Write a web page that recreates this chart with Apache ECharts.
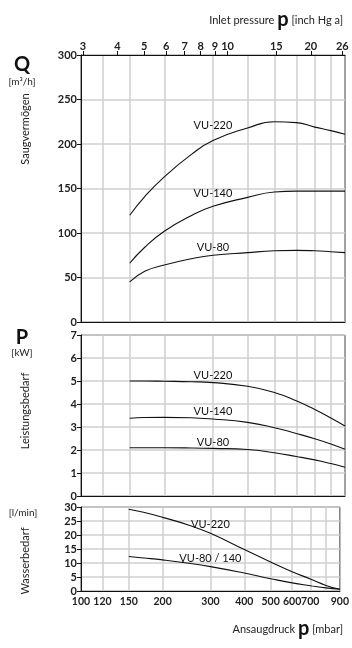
<!DOCTYPE html>
<html>
<head>
<meta charset="utf-8">
<script src="https://cdn.jsdelivr.net/npm/echarts@6/dist/echarts.min.js"></script>
<style>
  html, body { margin: 0; padding: 0; background: #fff; }
  #chart { width: 352px; height: 648px; }
</style>
</head>
<body>
<div id="chart"></div>
<script>
// Ansaugdruck in mbar (log scale)
const pressure = [150, 170, 200, 250, 300, 400, 500, 600, 700, 800, 900];

// Saugvermögen Q [m3/h]
const qVU220 = [120, 141, 163, 188, 204, 218, 225, 224, 219, 215, 211];
const qVU140 = [66, 84, 102, 119.5, 130, 140, 146, 147, 147, 147, 147];
const qVU80  = [45, 57, 64, 71, 75, 78, 80, 80.5, 80, 79, 78];

// Leistungsbedarf P [kW]
const pVU220 = [5.0, 5.0, 4.99, 4.97, 4.93, 4.77, 4.5, 4.14, 3.76, 3.39, 3.04];
const pVU140 = [3.38, 3.41, 3.42, 3.4, 3.35, 3.2, 2.97, 2.72, 2.49, 2.26, 2.03];
const pVU80  = [2.1, 2.1, 2.1, 2.09, 2.07, 2.02, 1.88, 1.72, 1.57, 1.41, 1.25];

// Wasserbedarf [l/min]
const wVU220 = [29.2, 28.1, 26.3, 23.5, 20.6, 14.8, 10.4, 6.9, 4.3, 2.0, 0.6];
const wVU80  = [12.3, 11.8, 11.1, 9.9, 8.7, 6.4, 4.4, 2.9, 1.9, 1.1, 0.6];

// axis ticks
const gridMbar = [120, 150, 200, 300, 400, 500, 600, 700, 800];
const labelMbar = [100, 120, 150, 200, 300, 400, 500, 600, 700, 900];
const inHgTicks = [3, 4, 5, 6, 7, 8, 9, 10, 15, 20, 26];
const MBAR_PER_INHG = 33.8639;

const lg = Math.log10;
const FONT = 'Lato, "Open Sans", sans-serif';
const gridLine = { show: true, lineStyle: { color: '#cfcfcf', width: 1.5 } };

function xAxisFor(i, showLabels) {
  return {
    type: 'value', gridIndex: i, min: 2, max: lg(900),
    axisLine: { show: true, lineStyle: { color: '#111', width: 1 } },
    axisTick: { show: false, customValues: gridMbar.map(lg) },
    axisLabel: {
      show: showLabels, customValues: labelMbar.map(lg), margin: 5,
      fontSize: 10.5, fontFamily: FONT, fontWeight: 'bold', color: '#222',
      formatter: v => Math.round(Math.pow(10, v))
    },
    splitLine: gridLine
  };
}

function yAxisFor(i, max, interval) {
  return {
    type: 'value', gridIndex: i, min: 0, max: max, interval: interval,
    axisLine: { show: true, lineStyle: { color: '#111', width: 1 } },
    axisTick: { show: true, length: 4, lineStyle: { color: '#111' } },
    axisLabel: { fontSize: 11, fontFamily: FONT, fontWeight: 'bold', color: '#222', margin: 4 },
    splitLine: gridLine
  };
}

function curve(name, xi, yi, values, labelDist) {
  return {
    type: 'line', name: name, xAxisIndex: xi, yAxisIndex: yi,
    smooth: 0.5,
    showSymbol: true, symbolSize: 0, animation: false,
    lineStyle: { color: '#111', width: 1.1 },
    itemStyle: { color: '#111' },
    emphasis: { disabled: true },
    data: pressure.map((p, k) => {
      const item = { value: [lg(p), values[k]] };
      if (p === 300) {
        item.label = {
          show: true, position: 'top', distance: labelDist, formatter: name,
          fontSize: 11, fontFamily: FONT, color: '#111'
        };
      }
      return item;
    })
  };
}

const chart = echarts.init(document.getElementById('chart'));
chart.setOption({
  backgroundColor: '#fff',
  animation: false,
  grid: [
    { left: 81, right: 7, top: 55, height: 267, show: true, borderColor: '#444', borderWidth: 1 },
    { left: 81, right: 7, top: 335, height: 161, show: true, borderColor: '#444', borderWidth: 1 },
    { left: 81, right: 7, top: 507, height: 84, show: true, borderColor: '#444', borderWidth: 1 }
  ],
  xAxis: [
    xAxisFor(0, false),
    xAxisFor(1, false),
    xAxisFor(2, true),
    {
      type: 'value', gridIndex: 0, position: 'top', min: 2, max: lg(900),
      axisLine: { show: true, lineStyle: { color: '#111', width: 1 } },
      axisTick: { show: true, length: 4, lineStyle: { color: '#111' },
        customValues: inHgTicks.map(h => lg(h * MBAR_PER_INHG)) },
      axisLabel: {
        customValues: inHgTicks.map(h => lg(h * MBAR_PER_INHG)), margin: 3,
        fontSize: 11, fontFamily: FONT, fontWeight: 'bold', color: '#222',
        formatter: v => Math.round(Math.pow(10, v) / MBAR_PER_INHG)
      },
      splitLine: { show: false }
    }
  ],
  yAxis: [
    yAxisFor(0, 300, 50),
    yAxisFor(1, 7, 1),
    yAxisFor(2, 30, 5)
  ],
  series: [
    curve('VU-220', 0, 0, qVU220, 9),
    curve('VU-140', 0, 0, qVU140, 7),
    curve('VU-80', 0, 0, qVU80, 2),
    curve('VU-220', 1, 1, pVU220, 2),
    curve('VU-140', 1, 1, pVU140, 2),
    curve('VU-80', 1, 1, pVU80, 0),
    curve('VU-220', 2, 2, wVU220, 3),
    curve('VU-80 / 140', 2, 2, wVU80, 3)
  ],
  graphic: [
    { type: 'text', right: 9, top: 10, style: {
      text: '{a|Inlet pressure }{b|p}{a| [inch Hg a]}',
      rich: { a: { fontSize: 11, fontFamily: FONT, fill: '#222' },
              b: { fontSize: 20, fontWeight: 'bold', fontFamily: FONT, fill: '#111' } } } },
    { type: 'text', right: 9, top: 619, style: {
      text: '{a|Ansaugdruck }{b|p}{a| [mbar]}',
      rich: { a: { fontSize: 11, fontFamily: FONT, fill: '#222' },
              b: { fontSize: 20, fontWeight: 'bold', fontFamily: FONT, fill: '#111' } } } },

    { type: 'text', x: 22, y: 65, style: { text: 'Q', fontSize: 20, fontWeight: 'bold', fontFamily: FONT, fill: '#111', align: 'center', verticalAlign: 'middle' } },
    { type: 'text', x: 22, y: 82, style: { text: '[m³/h]', fontSize: 10, fontFamily: FONT, fill: '#222', align: 'center', verticalAlign: 'middle' } },
    { type: 'text', x: 25, y: 129, rotation: Math.PI / 2, style: { text: 'Saugvermögen', fontSize: 11, fontFamily: FONT, fill: '#222', align: 'center', verticalAlign: 'middle' } },

    { type: 'text', x: 22, y: 338, style: { text: 'P', fontSize: 20, fontWeight: 'bold', fontFamily: FONT, fill: '#111', align: 'center', verticalAlign: 'middle' } },
    { type: 'text', x: 22, y: 353, style: { text: '[kW]', fontSize: 10, fontFamily: FONT, fill: '#222', align: 'center', verticalAlign: 'middle' } },
    { type: 'text', x: 25, y: 411, rotation: Math.PI / 2, style: { text: 'Leistungsbedarf', fontSize: 11, fontFamily: FONT, fill: '#222', align: 'center', verticalAlign: 'middle' } },

    { type: 'text', x: 23, y: 513, style: { text: '[l/min]', fontSize: 10, fontFamily: FONT, fill: '#222', align: 'center', verticalAlign: 'middle' } },
    { type: 'text', x: 25, y: 561, rotation: Math.PI / 2, style: { text: 'Wasserbedarf', fontSize: 11, fontFamily: FONT, fill: '#222', align: 'center', verticalAlign: 'middle' } }
  ]
});
</script>
</body>
</html>
